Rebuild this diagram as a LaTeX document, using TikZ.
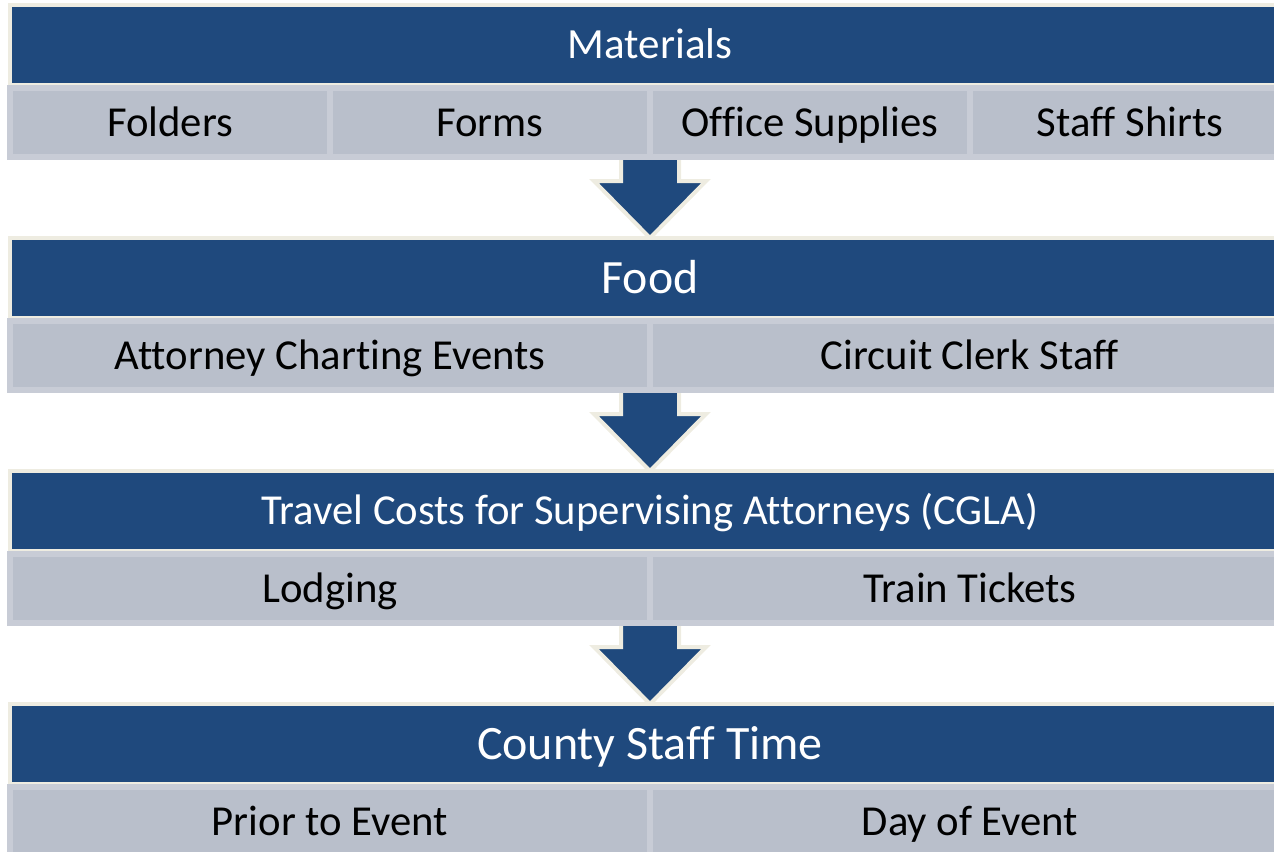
\documentclass[tikz,border=0pt]{standalone}
\usepackage{fontspec}
\setmainfont{Carlito}[Ligatures=NoCommon]
\usetikzlibrary{positioning, backgrounds, calc}
\definecolor{hdblue}{RGB}{31,73,125}
\definecolor{itemgray}{RGB}{185,191,203}
\definecolor{itemline}{RGB}{200,204,214}
\definecolor{cream}{RGB}{238,236,225}
\tikzstyle{header} = [rectangle, minimum width=25.6cm, minimum height=1.6cm,
                      inner sep=0pt, outer sep=0pt, draw=cream, fill=hdblue,
                      text=white, line width=0.09cm, text depth=0pt]
\tikzstyle{item} = [rectangle, minimum height=1.38cm, inner sep=0pt, outer sep=0pt,
                    draw=itemline, fill=itemgray, text=black, line width=0.12cm,
                    font=\fontsize{24.3}{29}\selectfont, text height=15.6pt, text depth=0pt]
\tikzstyle{quarter} = [item, minimum width=6.4cm]
\tikzstyle{half} = [item, minimum width=12.8cm]
\tikzstyle{bigarrow} = [fill=hdblue, draw=cream, line width=0.08cm]

% block arrow from the bottom of one row to the top of the next header
\newcommand{\flowarrow}[2]{%
  \draw [bigarrow] ($(#1)+(-0.58,0.3)$) -- ($(#1)+(0.58,0.3)$)
    -- ($(#2)+(0.58,1.14)$) -- ($(#2)+(1.12,1.14)$) -- (#2)
    -- ($(#2)+(-1.12,1.14)$) -- ($(#2)+(-0.58,1.14)$) -- cycle;}

\begin{document}
\begin{tikzpicture}
    \useasboundingbox (0,0) rectangle (25.48,-17.02);

    \node (mat) [header, font=\fontsize{24.5}{29}\selectfont, text height=15.8pt] at (13,-0.9) {Materials};
    \node (folders) [quarter, below right=0.06cm and 0cm of mat.south west] {Folders};
    \node (forms) [quarter, right=0cm of folders] {Forms};
    \node (office) [quarter, right=0cm of forms] {Office Supplies};
    \node (shirts) [quarter, right=0cm of office] {Staff Shirts};

    \node (food) [header, below=3.06cm of mat, font=\fontsize{27.2}{32}\selectfont, text height=17.5pt] {Food};
    \node (charting) [half, below right=0.06cm and 0cm of food.south west] {Attorney Charting Events};
    \node (clerk) [half, right=0cm of charting] {Circuit Clerk Staff};

    \node (travel) [header, below=3.06cm of food, font=\fontsize{24.3}{29}\selectfont, text height=15.6pt] {Travel Costs for Supervising Attorneys (CGLA)};
    \node (lodging) [half, below right=0.06cm and 0cm of travel.south west] {Lodging};
    \node (tickets) [half, right=0cm of lodging] {Train Tickets};

    \node (county) [header, below=3.06cm of travel, font=\fontsize{27.3}{32}\selectfont, text height=17.6pt] {County Staff Time};
    \node (prior) [half, below right=0.06cm and 0cm of county.south west] {Prior to Event};
    \node (dayof) [half, right=0cm of prior] {Day of Event};

    \begin{scope}[on background layer]
        \flowarrow{forms.south east}{food.north}
        \flowarrow{charting.south east}{travel.north}
        \flowarrow{lodging.south east}{county.north}
    \end{scope}

\end{tikzpicture}
\end{document}
